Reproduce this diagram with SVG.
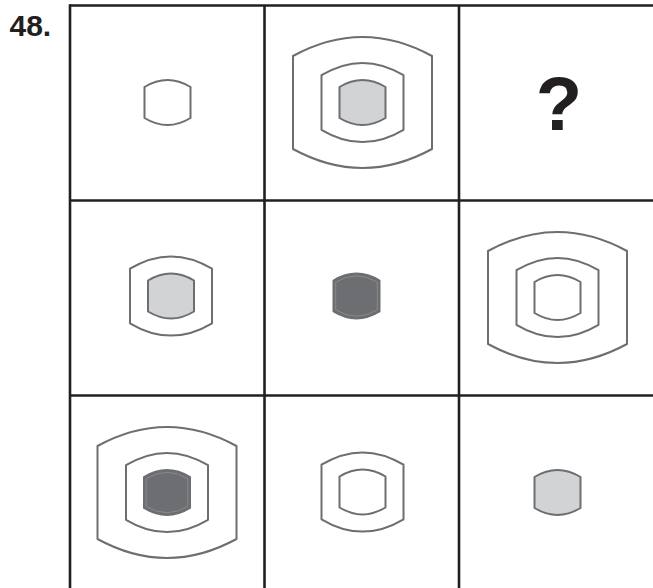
<svg xmlns="http://www.w3.org/2000/svg" width="653" height="588" viewBox="0 0 653 588">
<style>
.grid{stroke:#231f20;stroke-width:2.6;fill:none}
.sh{stroke:#6d6e71;stroke-width:2;fill:none;stroke-linejoin:round}
.lt{fill:#d1d3d4}
.dk{fill:#6d6e71}
.dkin{fill:none;stroke:#9a9c9f;stroke-width:0.6}
.lbl{font-family:"Liberation Sans",Arial,sans-serif;font-weight:bold;fill:#231f20}
</style>
<defs>
<path id="s" d="M -23,-15.5 Q 0,-29.5 23,-15.5 L 23,15.5 Q 0,29.5 -23,15.5 Z"/>
<path id="m" d="M -41,-27.3 Q 0,-51.9 41,-27.3 L 41,27.3 Q 0,51.9 -41,27.3 Z"/>
<path id="l" d="M -69.5,-46.5 Q 0,-84.5 69.5,-46.5 L 69.5,46.5 Q 0,84.5 -69.5,46.5 Z"/>
<path id="sin" d="M -20.8,-13.8 Q 0,-26.6 20.8,-13.8 L 20.8,13.8 Q 0,26.6 -20.8,13.8 Z"/>
</defs>
<text class="lbl" x="9.5" y="36" font-size="30">48.</text>
<g id="grid">
<line class="grid" x1="70" y1="5.5" x2="653" y2="5.5"/>
<line class="grid" x1="70" y1="200.5" x2="653" y2="200.5"/>
<line class="grid" x1="70" y1="395.5" x2="653" y2="395.5"/>
<line class="grid" x1="70" y1="4.2" x2="70" y2="588"/>
<line class="grid" x1="264.5" y1="5.5" x2="264.5" y2="588"/>
<line class="grid" x1="459" y1="5.5" x2="459" y2="588"/>
</g>
<g id="cell-1-1" transform="translate(167.5,102.5)">
<use href="#s" class="sh"/>
</g>
<g id="cell-1-2" transform="translate(362.5,102.5)">
<use href="#l" class="sh"/>
<use href="#m" class="sh"/>
<use href="#s" class="sh lt"/>
</g>
<g id="cell-1-3">
<text class="lbl" x="559" y="130" font-size="76" text-anchor="middle">?</text>
</g>
<g id="cell-2-1" transform="translate(171,296)">
<use href="#m" class="sh"/>
<use href="#s" class="sh lt"/>
</g>
<g id="cell-2-2" transform="translate(356.5,296)">
<use href="#s" class="sh dk"/>
<use href="#sin" class="dkin"/>
</g>
<g id="cell-2-3" transform="translate(557.5,297.5)">
<use href="#l" class="sh"/>
<use href="#m" class="sh"/>
<use href="#s" class="sh"/>
</g>
<g id="cell-3-1" transform="translate(167,492.5)">
<use href="#l" class="sh"/>
<use href="#m" class="sh"/>
<use href="#s" class="sh dk"/>
<use href="#sin" class="dkin"/>
</g>
<g id="cell-3-2" transform="translate(362.5,492)">
<use href="#m" class="sh"/>
<use href="#s" class="sh"/>
</g>
<g id="cell-3-3" transform="translate(557.5,492.5)">
<use href="#s" class="sh lt"/>
</g>
</svg>
